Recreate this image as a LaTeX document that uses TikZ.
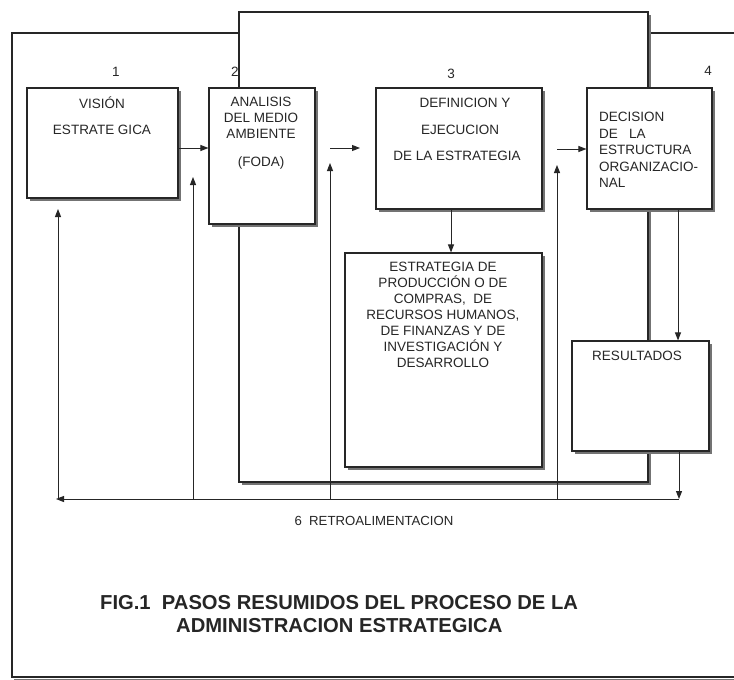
\documentclass[tikz,border=0pt]{standalone}
\usepackage{fontspec}
\setmainfont{Liberation Sans}
\usetikzlibrary{arrows.meta}
\tikzset{
  x=1pt, y=-1pt,
  ln/.style={draw=black!85, line width=1.1pt},
  shad/.style={fill=black!55, draw=none},
  boxnode/.style={ln, fill=white, rectangle, inner sep=0pt},
  arr/.style={draw=black!85, line width=1pt, -{Triangle[length=8pt,width=6pt]}},
  plain/.style={draw=black!85, line width=1pt},
  txt/.style={font=\fontsize{13.5}{16}\selectfont, inner sep=0pt, text=black!85},
}
\newcommand{\shbox}[5]{% name, x1, y1, x2, y2
  \fill[shad] (#2+2.5,#3+2.5) rectangle (#4+2.5,#5+2.5);
  \node[boxnode, minimum width={#4-#2}, minimum height={#5-#3}] (#1) at ({(#2+#4)/2},{(#3+#5)/2}) {};
}
\begin{document}
\begin{tikzpicture}
\useasboundingbox (0,0) rectangle (734,680);
\fill[white] (0,0) rectangle (734,680);
% outer frame
\fill[shad] (14,679) rectangle (740,680.5);
\draw[ln] (740,33) -- (12,33) -- (12,677) -- (740,677);
% big background rectangle
\shbox{big}{239}{12}{648}{482}
% boxes
\shbox{vision}{27}{88}{178}{198}
\shbox{analisis}{209}{88}{315}{224}
\shbox{definicion}{376}{88}{542}{209}
\shbox{decision}{587}{88}{712}{209}
\shbox{estrategia}{345}{253}{542}{467}
\shbox{resultados}{572}{341}{709}{451}
% numbers
\node[txt] (n1) at (116,72) {1};
\node[txt] (n2) at (235,72) {2};
\node[txt] (n3) at (451,74) {3};
\node[txt] (n4) at (708,71) {4};
% box texts
\node[txt] (tv1) at (102,103) {VISIÓN};
\node[txt] (tv2) at (102,130) {ESTRATE GICA};
\node[txt, align=center, anchor=north] (ta) at (261,97) {ANALISIS\\DEL MEDIO\\AMBIENTE};
\node[txt] (ta2) at (261,163) {(FODA)};
\node[txt] (td1) at (465,103) {DEFINICION Y};
\node[txt] (td2) at (460,130) {EJECUCION};
\node[txt] (td3) at (457,156) {DE LA ESTRATEGIA};
\node[txt, align=left, anchor=north west, font=\fontsize{13.5}{16.5}\selectfont] (tdc) at (599,112) {DECISION\\DE\ \ \ LA\\ESTRUCTURA\\ORGANIZACIO-\\NAL};
\node[txt, align=center, anchor=north] (te) at (443,262) {ESTRATEGIA DE\\PRODUCCIÓN O DE\\COMPRAS, \ DE\\RECURSOS HUMANOS,\\DE FINANZAS Y DE\\INVESTIGACIÓN Y\\DESARROLLO};
\node[txt] (tr) at (637,356) {RESULTADOS};
% feedback coordinates
\coordinate (fbR) at (679,499);
\coordinate (fbL) at (56,499);
\coordinate (u1) at (58,499);
\coordinate (u2) at (193,499);
\coordinate (u3) at (330,499);
\coordinate (u4) at (557,499);
\coordinate (u1t) at (58,209);
\coordinate (u2t) at (193,177);
\coordinate (u3t) at (330,163);
\coordinate (u4t) at (557,165);
\coordinate (a23s) at (330,148);
\coordinate (a23e) at (360,148);
\coordinate (a34s) at (557,149);
% connectors
\draw[arr] (vision.east |- 0,148) -- (analisis.west |- 0,148);
\draw[arr] (a23s) -- (a23e);
\draw[arr] (a34s) -- (decision.west |- a34s);
\draw[arr] (definicion.south -| 451,0) -- (estrategia.north -| 451,0);
\draw[arr] (decision.south -| 678,0) -- (resultados.north -| 678,0);
\draw[arr] (resultados.south -| 679,0) -- (fbR);
\draw[arr] (fbR) -- (fbL);
\draw[arr] (u1) -- (u1t);
\draw[arr] (u2) -- (u2t);
\draw[arr] (u3) -- (u3t);
\draw[arr] (u4) -- (u4t);
% labels
\node[txt, font=\fontsize{13.2}{15}\selectfont] (fb) at (374,521) {6\ \ RETROALIMENTACION};
\node[txt, font=\bfseries\fontsize{20.2}{24}\selectfont, anchor=west] (title1) at (100,603) {FIG.1\ \ PASOS RESUMIDOS DEL PROCESO DE LA};
\node[txt, font=\bfseries\fontsize{20.2}{24}\selectfont, anchor=west] (title2) at (176,626) {ADMINISTRACION ESTRATEGICA};
\end{tikzpicture}
\end{document}
